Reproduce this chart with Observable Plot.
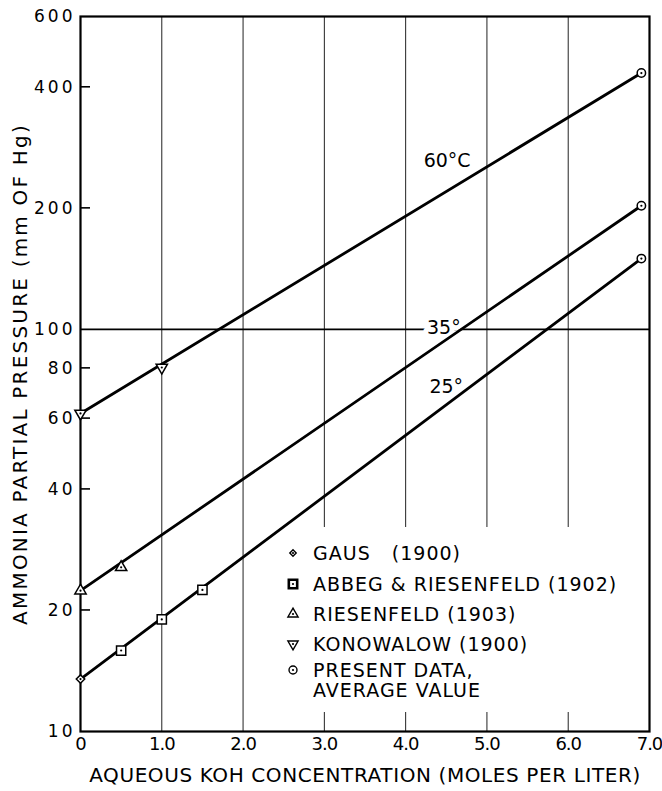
<!DOCTYPE html>
<html><head><meta charset="utf-8">
<script src="https://cdn.jsdelivr.net/npm/d3@7"></script>
<script src="https://cdn.jsdelivr.net/npm/@observablehq/plot@0.6"></script>
<style>
html,body{margin:0;padding:0;background:#fff;}
#chart svg{display:block;}
</style></head><body><div id="chart"></div>
<script>
// ---- data ----
const xTicks = [0, 1, 2, 3, 4, 5, 6, 7];
const yTicks = [10, 20, 40, 60, 80, 100, 200, 400, 600];
const yInnerTicks = [20, 40, 60, 80, 200, 400];
const xGrid = [1, 2, 3, 4, 5, 6];
const yGrid = [100];
const xTitle = "AQUEOUS KOH CONCENTRATION (MOLES PER LITER)";
const yTitle = "AMMONIA PARTIAL PRESSURE (mm OF Hg)";

// fitted lines per temperature (end points)
const lineX = [0, 6.9];
const line25 = [13.5, 150];
const line35 = [22.4, 203];
const line60 = [61.8, 434];

// curve labels
const curveText = ["25°", "35°", "60°C"];
const curveLabelX = [4.5, 4.47, 4.51];
const curveLabelY = [71.8, 101, 263];

// data points by source
const gausX = [0], gausY = [13.5];
const abbegX = [0.5, 1.0, 1.5], abbegY = [15.9, 19.0, 22.5];
const riesX = [0, 0.5], riesY = [22.4, 25.6];
const konoX = [0, 1.0], konoY = [61.8, 80.4];
const presX = [6.9, 6.9, 6.9], presY = [434, 203, 150];

const legendLabels = ["GAUS   (1900)", "ABBEG & RIESENFELD (1902)", "RIESENFELD (1903)", "KONOWALOW (1900)", "PRESENT DATA,|AVERAGE VALUE"];

// ---- build ----
const pts = (xs, ys) => xs.map((x, i) => ({x, y: ys[i]}));
const curve = (ys) => lineX.map((x, i) => ({x, y: ys[i]}));
const labels = curveText.map((t, i) => ({t, x: curveLabelX[i], y: curveLabelY[i]}));

const triangleDown = {
  draw(context, size) {
    const y = Math.sqrt(size / (Math.sqrt(3) * 3));
    context.moveTo(0, 2 * y);
    context.lineTo(Math.sqrt(3) * y, -y);
    context.lineTo(-Math.sqrt(3) * y, -y);
    context.closePath();
  }
};

const FONT = "DejaVu Sans, sans-serif";

// inward tick marks on the left axis, placed through the y scale
function innerTicks(index, scales, values, dimensions) {
  const g = d3.create("svg:g");
  const x0 = dimensions.marginLeft;
  yInnerTicks.forEach(v => {
    const y = scales.y(v);
    g.append("line").attr("x1", x0).attr("x2", x0 + 10).attr("y1", y).attr("y2", y)
      .attr("stroke", "black").attr("stroke-width", 1.6);
  });
  return g.node();
}

function legendBox() {
  const g = d3.create("svg:g");
  g.append("rect").attr("x", 268).attr("y", 527).attr("width", 378).attr("height", 185).attr("fill", "white");
  return g.node();
}

function legendItems() {
  const g = d3.create("svg:g").attr("font-family", FONT).attr("font-size", 19)
    .attr("letter-spacing", 1).attr("text-anchor", "start");
  const syms = [
    {type: d3.symbolDiamond2, size: 26, sw: 1.4},
    {type: d3.symbolSquare, size: 70, sw: 2.6},
    {type: d3.symbolTriangle, size: 45, sw: 1.4},
    {type: triangleDown, size: 45, sw: 1.4},
    {type: d3.symbolCircle, size: 50, sw: 1.4}
  ];
  const baselines = [560, 591, 621, 651, 677];
  legendLabels.forEach((lab, i) => {
    const by = baselines[i];
    const cy = by - 7;
    g.append("path").attr("transform", `translate(293,${cy})`)
      .attr("d", d3.symbol(syms[i].type, syms[i].size)())
      .attr("fill", "white").attr("stroke", "black").attr("stroke-width", syms[i].sw);
    g.append("circle").attr("cx", 293).attr("cy", cy).attr("r", 1.1).attr("fill", "black");
    lab.split("|").forEach((line, j) => {
      g.append("text").attr("x", 313).attr("y", by + j * 20).attr("fill", "black")
        .attr("text-anchor", "start")
        .style("white-space", "pre").text(line);
    });
  });
  return g.node();
}

const dotStyle = {fill: "white", stroke: "black", strokeWidth: 1.5};
const centers = [...pts(gausX, gausY), ...pts(abbegX, abbegY), ...pts(riesX, riesY), ...pts(konoX, konoY), ...pts(presX, presY)];

const chart = Plot.plot({
  width: 662,
  height: 791,
  marginLeft: 80,
  marginRight: 13,
  marginTop: 16,
  marginBottom: 60,
  style: {fontFamily: FONT, fontSize: "18px", color: "black", background: "white"},
  x: {domain: [0, 7]},
  y: {type: "log", domain: [10, 600], axis: null},
  marks: [
    Plot.ruleX(xGrid, {stroke: "#222", strokeWidth: 1}),
    Plot.ruleY(yGrid, {stroke: "black", strokeWidth: 1.6}),
    legendBox,
    Plot.frame({stroke: "black", strokeWidth: 2.2}),
    // y tick labels as a text mark (the log axis would blank out "80")
    Plot.text(yTicks, {frameAnchor: "left", y: d => d, text: d => String(d), dx: -5, textAnchor: "end", fontSize: 17}),
    innerTicks,
    Plot.axisX({ticks: xTicks, tickSize: 0, tickPadding: 6, tickFormat: d => d === 0 ? "0" : d.toFixed(1), fontSize: 18, label: null}),
    Plot.text([xTitle], {frameAnchor: "bottom", dy: 44, text: d => d, fontSize: 20, textAnchor: "middle", lineAnchor: "middle"}),
    Plot.text([yTitle], {frameAnchor: "left", dx: -60, rotate: -90, text: d => d, fontSize: 20, textAnchor: "middle", lineAnchor: "middle"}),
    Plot.text(labels, {x: "x", y: "y", text: "t", fontSize: 19, fill: "black", stroke: "white", strokeWidth: 10, paintOrder: "stroke"}),
    Plot.line(curve(line25), {x: "x", y: "y", stroke: "black", strokeWidth: 2.8}),
    Plot.line(curve(line35), {x: "x", y: "y", stroke: "black", strokeWidth: 2.8}),
    Plot.line(curve(line60), {x: "x", y: "y", stroke: "black", strokeWidth: 2.8}),
    Plot.dot(pts(gausX, gausY), {x: "x", y: "y", symbol: "diamond2", r: 3.8, ...dotStyle}),
    Plot.dot(pts(abbegX, abbegY), {x: "x", y: "y", symbol: "square", r: 5.2, ...dotStyle}),
    Plot.dot(pts(riesX, riesY), {x: "x", y: "y", symbol: "triangle", r: 4.2, ...dotStyle}),
    Plot.dot(pts(konoX, konoY), {x: "x", y: "y", symbol: triangleDown, r: 4.2, ...dotStyle}),
    Plot.dot(pts(presX, presY), {x: "x", y: "y", symbol: "circle", r: 4.2, ...dotStyle}),
    Plot.dot(centers, {x: "x", y: "y", r: 1.1, fill: "black"}),
    legendItems
  ]
});

document.getElementById("chart").appendChild(chart);

// letter spacing tweaks to match the hand lettering
const yLabelSet = new Set(yTicks.map(String));
const svg = d3.select(chart);
svg.selectAll("text").each(function() {
  const t = this.textContent;
  if (t === xTitle) d3.select(this).attr("letter-spacing", 0.6);
  else if (t === yTitle) d3.select(this).attr("letter-spacing", 2.2);
  else if (yLabelSet.has(t)) d3.select(this).attr("letter-spacing", 3);
});
svg.selectAll('g[aria-label="x-axis tick label"] text').attr("letter-spacing", -1);
</script>
</body></html>
